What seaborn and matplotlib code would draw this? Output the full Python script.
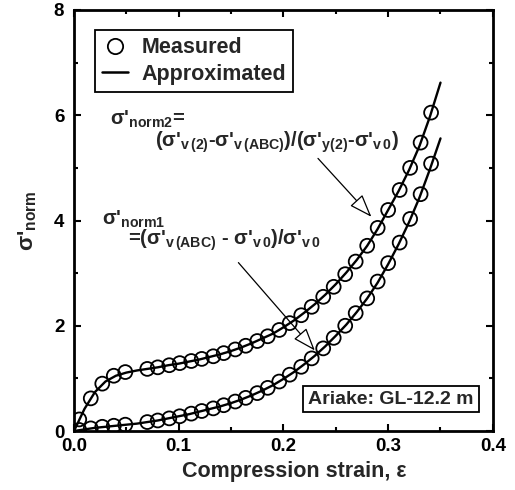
import numpy as np
import pandas as pd
import matplotlib.pyplot as plt
import seaborn as sb
from matplotlib.lines import Line2D

# measured points
strain = [0.005, 0.016, 0.027, 0.038, 0.049, 0.070, 0.080, 0.091, 0.101, 0.112,
          0.122, 0.133, 0.143, 0.154, 0.164, 0.175, 0.185, 0.196, 0.206, 0.217,
          0.227, 0.238, 0.248, 0.259, 0.269, 0.280, 0.290, 0.300, 0.311, 0.321,
          0.331, 0.341]
norm2 = [0.22, 0.62, 0.90, 1.05, 1.12, 1.18, 1.21, 1.25, 1.29, 1.33,
         1.37, 1.42, 1.48, 1.55, 1.62, 1.71, 1.80, 1.92, 2.05, 2.20,
         2.36, 2.55, 2.74, 2.98, 3.22, 3.52, 3.86, 4.20, 4.58, 5.00,
         5.48, 6.05]
norm1 = [0.02, 0.05, 0.08, 0.10, 0.12, 0.17, 0.20, 0.24, 0.28, 0.33,
         0.38, 0.43, 0.49, 0.56, 0.63, 0.72, 0.82, 0.94, 1.07, 1.22,
         1.38, 1.57, 1.77, 2.00, 2.24, 2.52, 2.84, 3.19, 3.58, 4.03,
         4.50, 5.08]

# approximated curves
fit_strain = [0.00, 0.01, 0.02, 0.03, 0.04, 0.05, 0.06, 0.07, 0.08, 0.09,
              0.10, 0.11, 0.12, 0.13, 0.14, 0.15, 0.16, 0.17, 0.18, 0.19,
              0.20, 0.21, 0.22, 0.23, 0.24, 0.25, 0.26, 0.27, 0.28, 0.29,
              0.30, 0.31, 0.32, 0.33, 0.34, 0.35]
fit_norm2 = [0.00, 0.42, 0.74, 0.94, 1.05, 1.11, 1.15, 1.18, 1.21, 1.25,
             1.28, 1.32, 1.36, 1.41, 1.46, 1.52, 1.59, 1.67, 1.76, 1.85,
             1.97, 2.10, 2.25, 2.41, 2.59, 2.79, 3.01, 3.25, 3.52, 3.84,
             4.20, 4.56, 4.96, 5.42, 5.98, 6.62]
fit_norm1 = [0.00, 0.03, 0.06, 0.08, 0.10, 0.12, 0.14, 0.17, 0.20, 0.24,
             0.28, 0.32, 0.37, 0.42, 0.47, 0.53, 0.60, 0.68, 0.77, 0.87,
             0.99, 1.12, 1.27, 1.43, 1.61, 1.81, 2.02, 2.26, 2.52, 2.82,
             3.17, 3.55, 3.97, 4.44, 4.98, 5.56]

sb.set_theme(style="ticks")
plt.rcParams['font.family'] = ['Liberation Sans', 'DejaVu Sans']
plt.rcParams['font.weight'] = 'bold'
plt.rcParams['mathtext.fontset'] = 'custom'
plt.rcParams['mathtext.rm'] = 'Liberation Sans:bold'
plt.rcParams['mathtext.it'] = 'Liberation Sans:bold'
plt.rcParams['mathtext.bf'] = 'Liberation Sans:bold'
plt.rcParams['mathtext.sf'] = 'Liberation Sans:bold'

fig = plt.figure(figsize=(5.15, 4.90), dpi=100)
ax = fig.add_axes([0.1437, 0.1204, 0.8133, 0.8592])

meas = pd.DataFrame({'strain': strain, 'norm1': norm1, 'norm2': norm2})
fit = pd.DataFrame({'strain': fit_strain, 'norm1': fit_norm1, 'norm2': fit_norm2})

for col in ['norm1', 'norm2']:
    sb.lineplot(data=fit, x='strain', y=col, color='black', linewidth=1.7,
                sort=False, ax=ax)
    sb.scatterplot(data=meas, x='strain', y=col, marker='o', s=100,
                   facecolor='none', edgecolor='black', linewidth=1.3, ax=ax,
                   zorder=3)

ax.set_xlim(0, 0.4)
ax.set_ylim(0, 8)
ax.set_xticks([0.0, 0.1, 0.2, 0.3, 0.4])
ax.set_xticks([0.05, 0.15, 0.25, 0.35], minor=True)
ax.set_yticks([0, 2, 4, 6, 8])
ax.set_yticks([1, 3, 5, 7], minor=True)
ax.set_xticklabels(['0.0', '0.1', '0.2', '0.3', '0.4'])
ax.set_yticklabels(['0', '2', '4', '6', '8'])
ax.tick_params(which='both', direction='in', top=True, right=True, width=1.5,
               labelsize=13.5, colors='black')
ax.tick_params(which='major', length=5)
ax.tick_params(which='minor', length=3)
ax.tick_params(axis='y', pad=7)
ax.tick_params(axis='x', pad=5)
for sp in ax.spines.values():
    sp.set_linewidth(2)
    sp.set_color('black')

ax.set_xlabel('Compression strain, ε', fontsize=15.5, fontweight='bold')
ax.xaxis.set_label_coords(0.525, -0.072)
ax.set_ylabel("σ'$_{norm}$", fontsize=16, fontweight='bold', labelpad=11)

# legend
handles = [Line2D([], [], marker='o', linestyle='none', markersize=11,
                  markerfacecolor='none', markeredgecolor='black', markeredgewidth=1.3),
           Line2D([], [], color='black', linewidth=1.8)]
leg = ax.legend(handles, ['Measured', 'Approximated'], loc='upper left',
                bbox_to_anchor=(0.05, 0.953), fancybox=False, framealpha=1,
                edgecolor='black', fontsize=15.5, handlelength=1.2,
                handletextpad=0.6, borderpad=0.35, labelspacing=0.25,
                borderaxespad=0)
leg.get_frame().set_linewidth(1.3)
for t in leg.get_texts():
    t.set_fontweight('bold')

# formula annotations
ax.text(0.0344, 5.82, "σ'$_{norm2}$=", fontsize=14.5, fontweight='bold', va='baseline')
ax.text(0.0773, 5.40,
        "(σ'$_{v\\,(2)}$-σ'$_{v\\,(ABC)}$)/(σ'$_{y(2)}$-σ'$_{v\\,0}$)",
        fontsize=14.5, fontweight='bold', va='baseline')
ax.text(0.0267, 3.92, "σ'$_{norm1}$", fontsize=14.5, fontweight='bold', va='baseline')
ax.text(0.0516, 3.54, "=(σ'$_{v\\,(ABC)}$ - σ'$_{v\\,0}$)/σ'$_{v\\,0}$",
        fontsize=14.5, fontweight='bold', va='baseline')

arrow = dict(arrowstyle='-|>,head_length=1.1,head_width=0.4', fc='white',
             ec='black', lw=0.9, shrinkA=0, shrinkB=0, mutation_scale=13)
ax.annotate('', xy=(0.284, 4.07), xytext=(0.233, 5.18), arrowprops=arrow)
ax.annotate('', xy=(0.230, 1.53), xytext=(0.157, 3.20), arrowprops=arrow)

ax.text(0.757, 0.076, 'Ariake: GL-12.2 m', transform=ax.transAxes, ha='center',
        va='center', fontsize=14, fontweight='bold',
        bbox=dict(boxstyle='square,pad=0.25', fc='white', ec='black', lw=1.3))

plt.savefig('out.png', dpi=100)
